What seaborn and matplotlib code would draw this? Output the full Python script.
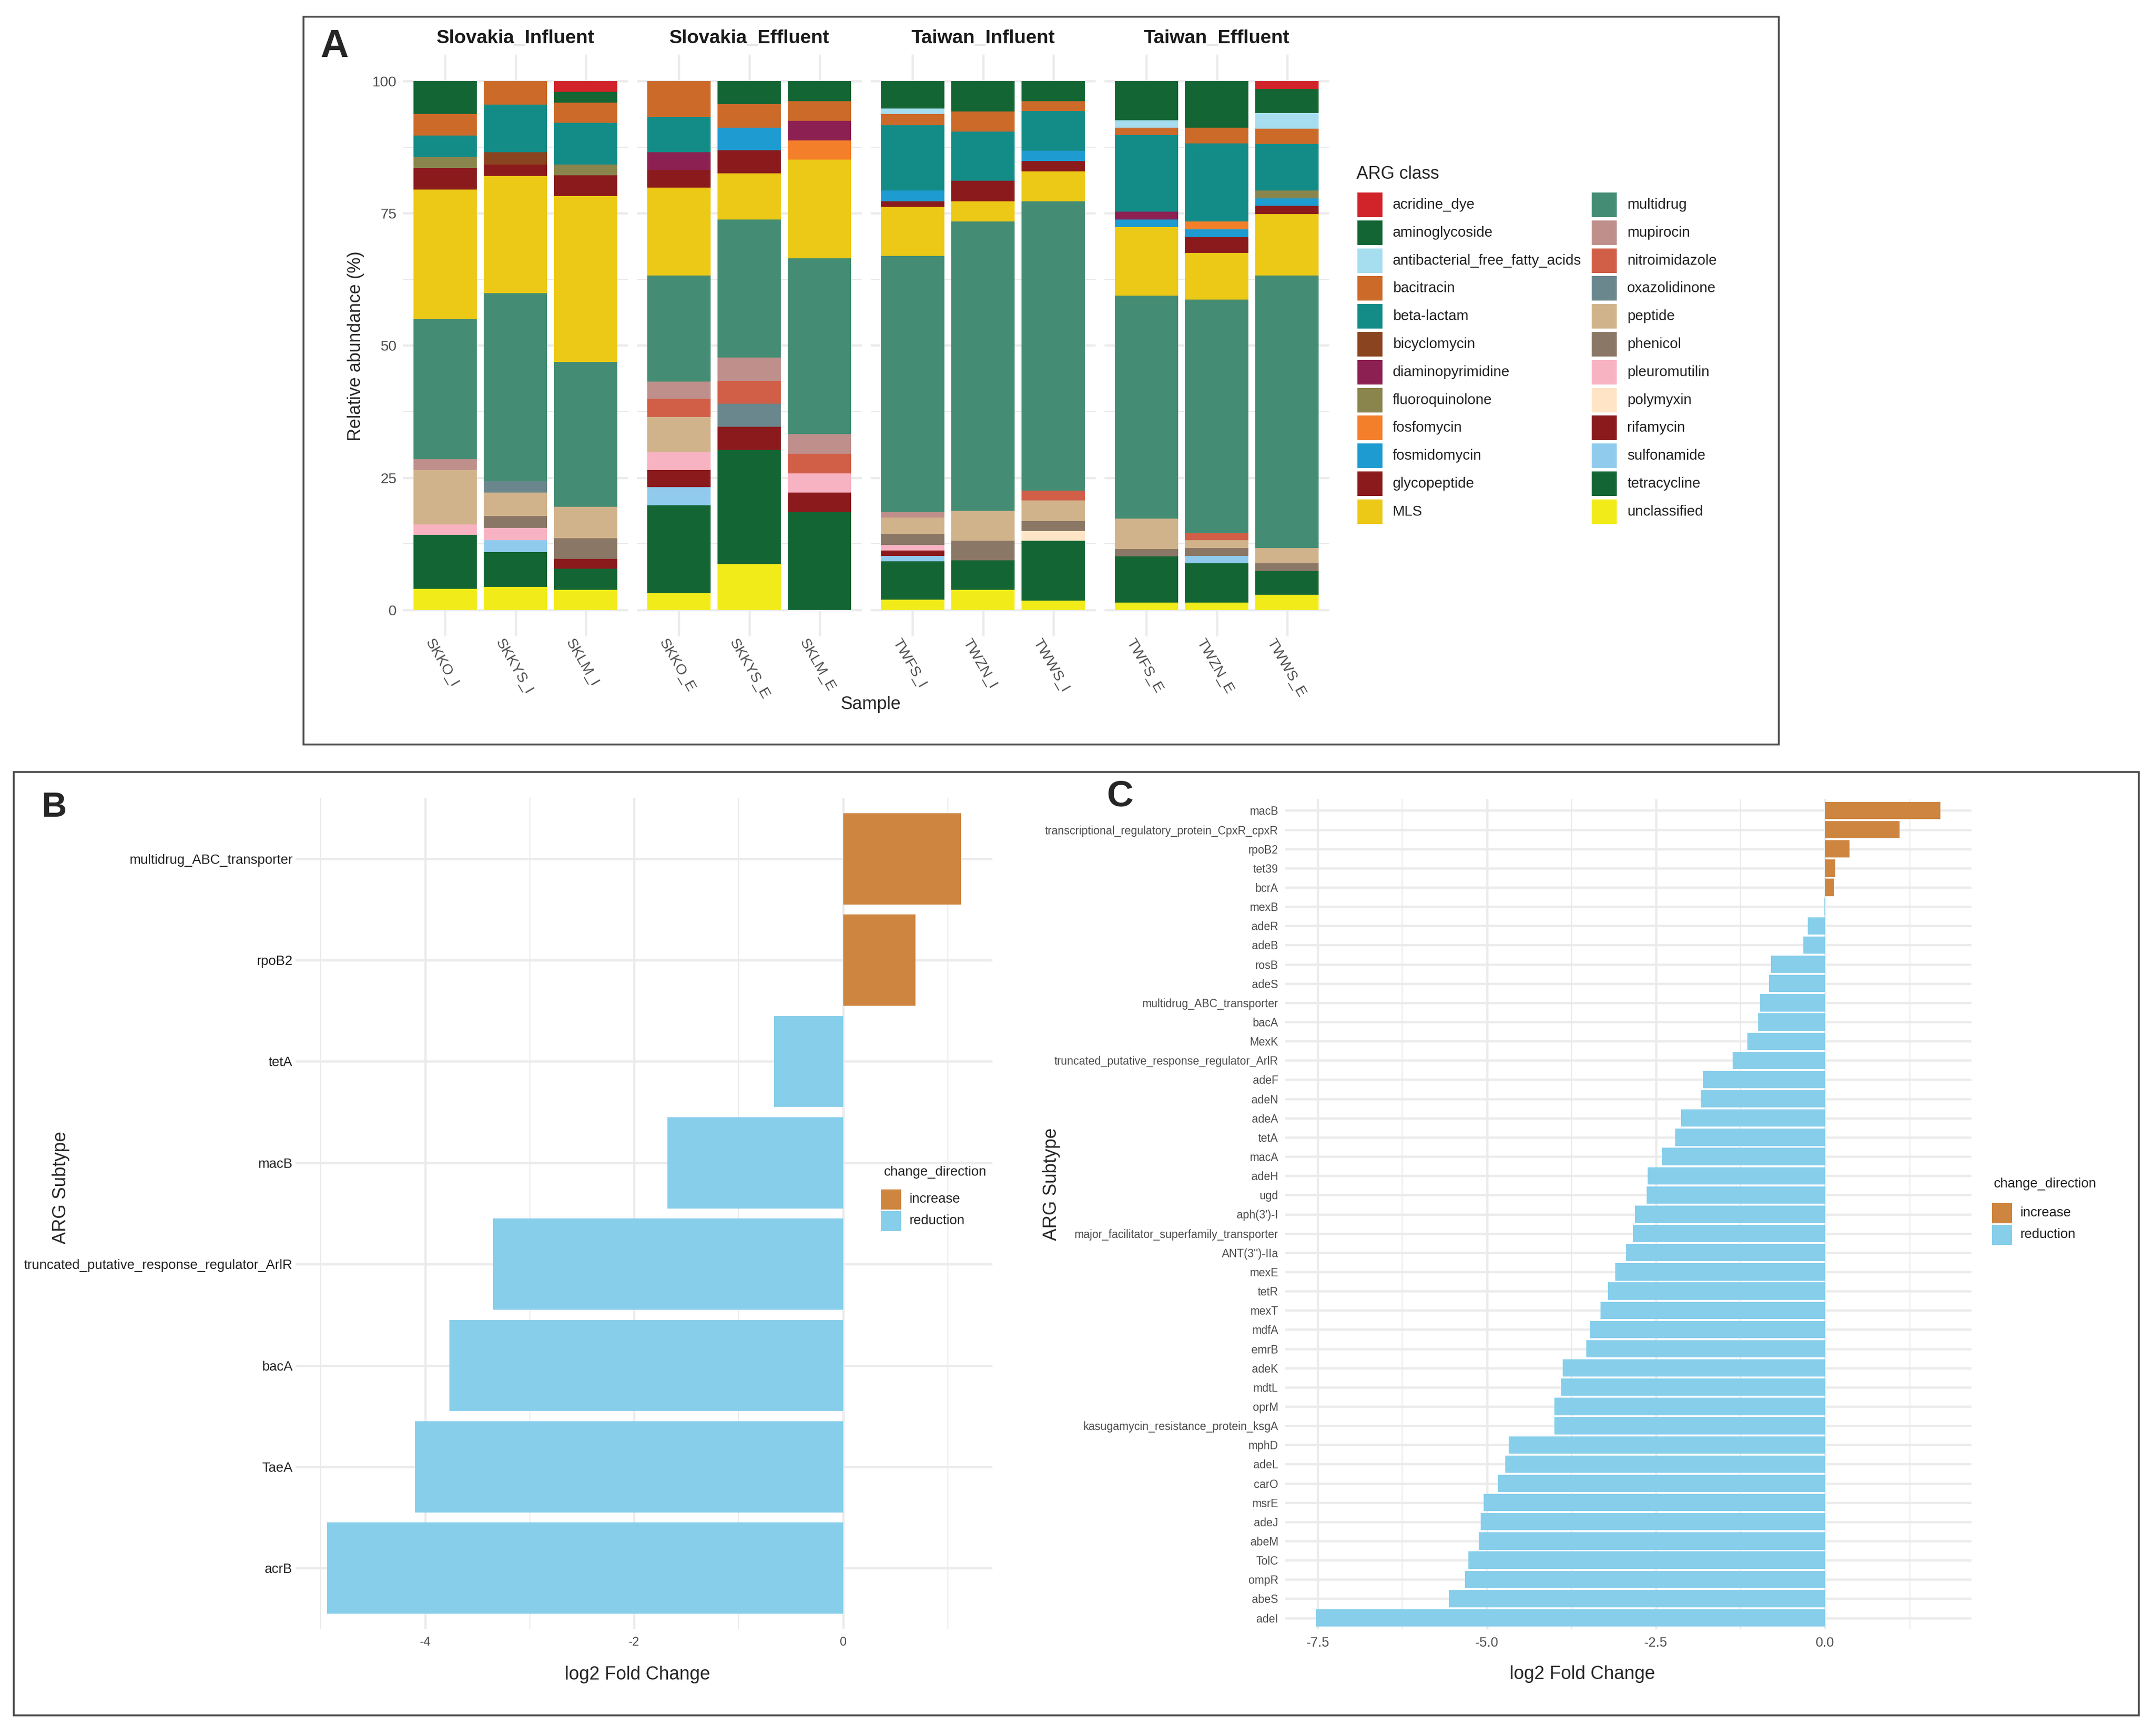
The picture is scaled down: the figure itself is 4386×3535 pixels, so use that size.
import numpy as np
import pandas as pd
import matplotlib
matplotlib.use("Agg")
import matplotlib.pyplot as plt
import matplotlib.transforms as mtransforms
from matplotlib.patches import Rectangle
from matplotlib.ticker import FixedLocator
import seaborn as sns

W, H, DPI = 4386, 3535, 300

# ---- Panel A: relative abundance of ARG classes (%) ----
samples = ["SKKO_I", "SKKYS_I", "SKLM_I", "SKKO_E", "SKKYS_E", "SKLM_E",
           "TWFS_I", "TWZN_I", "TWWS_I", "TWFS_E", "TWZN_E", "TWWS_E"]
facet_titles = ["Slovakia_Influent", "Slovakia_Effluent", "Taiwan_Influent", "Taiwan_Effluent"]

acridine_dye = [0, 0, 2.1, 0, 0, 0, 0, 0, 0, 0, 0, 1.5]
aminoglycoside = [6.2, 0, 2.0, 0, 4.4, 3.8, 5.2, 5.8, 3.8, 7.4, 8.8, 4.5]
antibacterial_free_fatty_acids = [0, 0, 0, 0, 0, 0, 1.0, 0, 0, 1.4, 0, 3.0]
bacitracin = [4.1, 4.5, 3.8, 6.8, 4.4, 3.7, 2.2, 3.8, 1.9, 1.4, 3.0, 2.9]
beta_lactam = [4.1, 9.0, 7.9, 6.7, 0, 0, 12.3, 9.3, 7.5, 14.5, 14.8, 8.8]
bicyclomycin = [0, 2.3, 0, 0, 0, 0, 0, 0, 0, 0, 0, 0]
diaminopyrimidine = [0, 0, 0, 3.3, 0, 3.7, 0, 0, 0, 1.5, 0, 0]
fluoroquinolone = [2.0, 0, 2.0, 0, 0, 0, 0, 0, 0, 0, 0, 1.5]
fosfomycin = [0, 0, 0, 0, 0, 3.7, 0, 0, 0, 0, 1.4, 0]
fosmidomycin = [0, 0, 0, 0, 4.3, 0, 2.1, 0, 1.9, 1.4, 1.5, 1.4]
glycopeptide = [4.1, 2.1, 3.9, 3.4, 4.4, 0, 1.0, 3.9, 2.0, 0, 3.0, 1.6]
MLS = [24.5, 22.2, 31.4, 16.6, 8.7, 18.6, 9.3, 3.8, 5.7, 13.0, 8.8, 11.6]
multidrug = [26.5, 35.6, 27.4, 20.0, 26.1, 33.3, 48.4, 54.6, 54.6, 42.1, 44.1, 51.5]
mupirocin = [2.0, 0, 0, 3.3, 4.4, 3.7, 1.0, 0, 0, 0, 0, 0]
nitroimidazole = [0, 0, 0, 3.4, 4.3, 3.7, 0, 0, 1.9, 0, 1.4, 0]
oxazolidinone = [0, 2.1, 0, 0, 4.4, 0, 0, 0, 0, 0, 0, 0]
peptide = [10.3, 4.5, 5.9, 6.6, 0, 0, 3.1, 5.7, 3.9, 5.8, 1.5, 2.9]
phenicol = [0, 2.2, 3.9, 0, 0, 0, 2.1, 3.7, 1.8, 1.4, 1.5, 1.5]
pleuromutilin = [2.0, 2.3, 0, 3.4, 0, 3.6, 1.1, 0, 0, 0, 0, 0]
polymyxin = [0, 0, 0, 0, 0, 0, 0, 0, 1.9, 0, 0, 0]
rifamycin = [0, 0, 1.9, 3.3, 4.3, 3.7, 1.0, 0, 0, 0, 0, 0]
sulfonamide = [0, 2.2, 0, 3.4, 0, 0, 1.0, 0, 0, 0, 1.4, 0]
tetracycline = [10.2, 6.6, 4.0, 16.6, 21.7, 18.5, 7.2, 5.6, 11.3, 8.7, 7.4, 4.4]
unclassified = [4.0, 4.4, 3.8, 3.2, 8.6, 0, 2.0, 3.8, 1.8, 1.4, 1.4, 2.9]

class_colors = {
    "acridine_dye": "#D1232A", "aminoglycoside": "#136534",
    "antibacterial_free_fatty_acids": "#A6DDEF", "bacitracin": "#CC6A2A",
    "beta-lactam": "#138C88", "bicyclomycin": "#8A4520",
    "diaminopyrimidine": "#8C2052", "fluoroquinolone": "#8A854D",
    "fosfomycin": "#F47F2B", "fosmidomycin": "#1E9BD0",
    "glycopeptide": "#8B1A1C", "MLS": "#ECC916",
    "multidrug": "#448D74", "mupirocin": "#BF8F8C",
    "nitroimidazole": "#D15E47", "oxazolidinone": "#6A878E",
    "peptide": "#D1B38B", "phenicol": "#8B7765",
    "pleuromutilin": "#F8B3C2", "polymyxin": "#FFE5C6",
    "rifamycin": "#8B1A1C", "sulfonamide": "#90CBEE",
    "tetracycline": "#136534", "unclassified": "#F2EB1A",
}

abund = pd.DataFrame({
    "acridine_dye": acridine_dye, "aminoglycoside": aminoglycoside,
    "antibacterial_free_fatty_acids": antibacterial_free_fatty_acids,
    "bacitracin": bacitracin, "beta-lactam": beta_lactam,
    "bicyclomycin": bicyclomycin, "diaminopyrimidine": diaminopyrimidine,
    "fluoroquinolone": fluoroquinolone, "fosfomycin": fosfomycin,
    "fosmidomycin": fosmidomycin, "glycopeptide": glycopeptide, "MLS": MLS,
    "multidrug": multidrug, "mupirocin": mupirocin,
    "nitroimidazole": nitroimidazole, "oxazolidinone": oxazolidinone,
    "peptide": peptide, "phenicol": phenicol, "pleuromutilin": pleuromutilin,
    "polymyxin": polymyxin, "rifamycin": rifamycin, "sulfonamide": sulfonamide,
    "tetracycline": tetracycline, "unclassified": unclassified,
}, index=samples)
classes = list(abund.columns)

# ---- Panel B: log2 fold change (Slovakia) ----
genes_b = ["multidrug_ABC_transporter", "rpoB2", "tetA", "macB",
           "truncated_putative_response_regulator_ArlR", "bacA", "TaeA", "acrB"]
lfc_b = [1.13, 0.69, -0.66, -1.68, -3.35, -3.77, -4.10, -4.94]

# ---- Panel C: log2 fold change (Taiwan) ----
genes_c = ["macB", "transcriptional_regulatory_protein_CpxR_cpxR", "rpoB2", "tet39",
           "bcrA", "mexB", "adeR", "adeB", "rosB", "adeS", "multidrug_ABC_transporter",
           "bacA", "MexK", "truncated_putative_response_regulator_ArlR", "adeF", "adeN",
           "adeA", "tetA", "macA", "adeH", "ugd", "aph(3')-I",
           "major_facilitator_superfamily_transporter", "ANT(3'')-IIa", "mexE", "tetR",
           "mexT", "mdfA", "emrB", "adeK", "mdtL", "oprM",
           "kasugamycin_resistance_protein_ksgA", "mphD", "adeL", "carO", "msrE", "adeJ",
           "abeM", "TolC", "ompR", "abeS", "adeI"]
lfc_c = [1.70, 1.10, 0.36, 0.15, 0.125, -0.01, -0.26, -0.32, -0.80, -0.83, -0.96,
         -0.99, -1.15, -1.37, -1.80, -1.84, -2.13, -2.22, -2.41, -2.62, -2.64, -2.81,
         -2.84, -2.94, -3.10, -3.21, -3.32, -3.47, -3.53, -3.88, -3.90, -4.00,
         -4.00, -4.68, -4.73, -4.84, -5.05, -5.09, -5.12, -5.27, -5.32, -5.56, -7.52]

dir_colors = {"increase": "#CD853F", "reduction": "#87CEEB"}

sns.set_theme(style="white")
plt.rcParams["font.family"] = ["Liberation Sans", "DejaVu Sans"]

GRID = "#EBEBEB"
TICK = "#4D4D4D"

fig = plt.figure(figsize=(W / DPI, H / DPI), dpi=DPI)


def px_axes(x0, y0, x1, y1):
    return fig.add_axes([x0 / W, 1 - y1 / H, (x1 - x0) / W, (y1 - y0) / H])


def px_text(x, y, s, **kw):
    return fig.text(x / W, 1 - y / H, s, **kw)


def px_rect(x0, y0, w, h, **kw):
    fig.patches.append(Rectangle((x0 / W, 1 - (y0 + h) / H), w / W, h / H,
                                 transform=fig.transFigure, **kw))


def clean(ax):
    ax.set_axisbelow(True)
    for sp in ax.spines.values():
        sp.set_visible(False)
    ax.tick_params(length=0, which="both")


# ---------------- Panel A ----------------
facet_left = [820.5, 1296.5, 1772.5, 2248.5]
facet_w = 458
shift = mtransforms.ScaledTranslation(-22 / DPI, 0, fig.dpi_scale_trans)
for f, title in enumerate(facet_titles):
    ax = px_axes(facet_left[f], 111, facet_left[f] + facet_w, 1296)
    sub = samples[3 * f:3 * f + 3]
    xs = np.arange(3)
    bottom = np.zeros(3)
    for cls in reversed(classes):
        vals = abund.loc[sub, cls].values
        ax.bar(xs, vals, bottom=bottom, width=0.9, color=class_colors[cls], linewidth=0)
        bottom += vals
    ax.set_xlim(-0.6, 2.6)
    ax.set_ylim(-5, 105)
    clean(ax)
    ax.set_yticks([0, 25, 50, 75, 100])
    ax.yaxis.set_minor_locator(FixedLocator([12.5, 37.5, 62.5, 87.5]))
    ax.grid(which="major", color=GRID, lw=1.1)
    ax.grid(which="minor", axis="y", color=GRID, lw=0.55)
    ax.set_xticks(xs)
    ax.set_xticklabels(sub, rotation=-60, ha="left", va="top", rotation_mode="anchor",
                       fontsize=7.2, color=TICK)
    ax.tick_params(axis="x", pad=0)
    for lab in ax.get_xticklabels():
        lab.set_transform(lab.get_transform() + shift)
    if f == 0:
        ax.set_yticklabels(["0", "25", "50", "75", "100"], fontsize=7.2, color=TICK)
        ax.tick_params(axis="y", pad=3)
    else:
        ax.tick_params(axis="y", labelleft=False)
    px_text(facet_left[f] + facet_w / 2, 78, title, fontsize=9.4, fontweight="bold",
            ha="center", va="center", color="#1A1A1A")

px_text(652, 96, "A", fontsize=19, fontweight="bold", ha="left", va="center")
px_text(724, 705, "Relative abundance (%)", fontsize=8.7, rotation=90, ha="center", va="center")
px_text(1773, 1435, "Sample", fontsize=8.7, ha="center", va="center")

px_text(2762, 355, "ARG class", fontsize=8.6, ha="left", va="center")
for i, cls in enumerate(classes):
    col, row = divmod(i, 12)
    kx = 2764 + col * 477
    ky = 392 + row * 56.8
    px_rect(kx, ky, 51, 50, facecolor=class_colors[cls], edgecolor="none")
    px_text(kx + 72, ky + 25, cls, fontsize=7.1, ha="left", va="center", color="#222222")

px_rect(618, 34, 3004, 1482, facecolor="none", edgecolor="#4D4D4D", lw=0.9)


# ---------------- Panels B and C ----------------
def lfc_panel(ax, genes, lfc, xlim, major, minor, ylab_size, xlab_size, ylab_color, ypad, xpad):
    df = pd.DataFrame({"gene": genes, "lfc": lfc})
    df["change_direction"] = np.where(df["lfc"] > 0, "increase", "reduction")
    sns.barplot(data=df, x="lfc", y="gene", hue="change_direction",
                hue_order=["increase", "reduction"], palette=dir_colors, order=genes,
                dodge=False, width=0.9, saturation=1, linewidth=0, legend=False, ax=ax)
    ax.set_xlim(*xlim)
    ax.set_ylim(len(genes) - 0.4, -0.6)
    clean(ax)
    ax.set_xticks(major)
    ax.xaxis.set_minor_locator(FixedLocator(minor))
    ax.grid(which="major", color=GRID, lw=1.1)
    ax.grid(which="minor", axis="x", color=GRID, lw=0.55)
    ax.set_xlabel("")
    ax.set_ylabel("")
    ax.tick_params(axis="y", labelsize=ylab_size, labelcolor=ylab_color, pad=ypad)
    ax.tick_params(axis="x", labelsize=xlab_size, labelcolor=TICK, pad=xpad)


ax_b = px_axes(602, 1625, 2021, 3317)
lfc_panel(ax_b, genes_b, lfc_b, (-5.24, 1.43), [-4, -2, 0], [-5, -3, -1, 1],
          6.6, 6.0, "#222222", 1.5, 3.5)
ax_b.set_xticklabels(["-4", "-2", "0"])

ax_c = px_axes(2617, 1627, 4014, 3318)
lfc_panel(ax_c, genes_c, lfc_c, (-7.98, 2.16), [-7.5, -5.0, -2.5, 0.0],
          [-6.25, -3.75, -1.25, 1.25], 5.5, 6.6, TICK, 3.4, 3.6)
ax_c.set_xticklabels(["-7.5", "-5.0", "-2.5", "0.0"])

px_text(84, 1645, "B", fontsize=17, fontweight="bold", ha="left", va="center")
px_text(124, 2418, "ARG Subtype", fontsize=9, rotation=90, ha="center", va="center")
px_text(1298, 3410, "log2 Fold Change", fontsize=9, ha="center", va="center")

px_text(2254, 1622, "C", fontsize=18, fontweight="bold", ha="left", va="center")
px_text(2141, 2411, "ARG Subtype", fontsize=9, rotation=90, ha="center", va="center")
px_text(3222, 3409, "log2 Fold Change", fontsize=9, ha="center", va="center")

for tx, ty, kx, ky in [(1800, 2387, 1794, 2422), (4060, 2411, 4056, 2450)]:
    px_text(tx, ty, "change_direction", fontsize=6.6, ha="left", va="center", color="#222222")
    for j, lev in enumerate(["increase", "reduction"]):
        y0 = ky + j * 44
        px_rect(kx, y0, 41, 41, facecolor=dir_colors[lev], edgecolor="none")
        px_text(kx + 57, y0 + 20, lev, fontsize=6.6, ha="left", va="center", color="#222222")

px_rect(28, 1572, 4327, 1921, facecolor="none", edgecolor="#4D4D4D", lw=0.9)

fig.savefig("out.png", dpi=DPI, facecolor="white")
